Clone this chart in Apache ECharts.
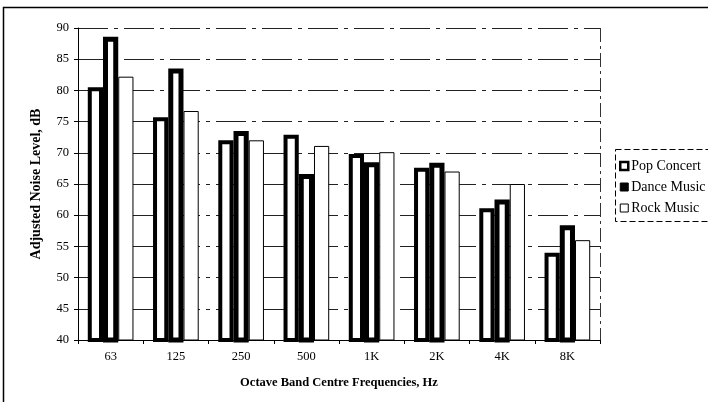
<!DOCTYPE html>
<html>
<head>
<meta charset="utf-8">
<script src="https://cdn.jsdelivr.net/npm/echarts@6/dist/echarts.min.js"></script>
<style>
  html, body { margin: 0; padding: 0; background: #fff; }
  #chart { width: 708px; height: 402px; }
</style>
</head>
<body>
<div id="chart"></div>
<script>
// Octave band levels (dB) for three music events
const bands = ['63', '125', '250', '500', '1K', '2K', '4K', '8K'];
const popConcert = [80.5, 75.7, 72.0, 72.9, 69.8, 67.6, 61.1, 54.0];
const danceMusic = [88.6, 83.5, 73.5, 66.6, 68.5, 68.4, 62.5, 58.4];
const rockMusic  = [82.2, 76.7, 72.0, 71.1, 70.1, 67.0, 65.0, 56.0];
const yTicks = { min: 40, max: 90, step: 5 };

const serif = '"Liberation Serif", "DejaVu Serif", serif';
const chart = echarts.init(document.getElementById('chart'), null, { renderer: 'canvas' });

chart.setOption({
  backgroundColor: '#fff',
  animation: false,
  grid: { left: 78, right: 108, top: 28, bottom: 62 },
  legend: {
    orient: 'vertical',
    left: 614,
    top: 154,
    itemWidth: 8,
    itemHeight: 8,
    itemGap: 7,
    textStyle: { fontFamily: serif, fontSize: 14, color: '#000', padding: [0, 0, 0, -2] },
    data: [
      { name: 'Pop Concert', icon: 'rect', itemStyle: { color: '#fff', borderColor: '#000', borderWidth: 2.5 } },
      { name: 'Dance Music', icon: 'rect', itemStyle: { color: '#000', borderColor: '#000', borderWidth: 1 } },
      { name: 'Rock Music', icon: 'rect', itemStyle: { color: '#fff', borderColor: '#000', borderWidth: 1 } }
    ]
  },
  xAxis: {
    type: 'category',
    data: bands,
    name: 'Octave Band Centre Frequencies, Hz',
    nameLocation: 'middle',
    nameGap: 36,
    nameTextStyle: { fontFamily: serif, fontSize: 12.5, fontWeight: 'bold', color: '#000' },
    axisLine: { lineStyle: { color: '#000', width: 1 } },
    axisTick: { show: true, length: 4, lineStyle: { color: '#000' } },
    axisLabel: { fontFamily: serif, fontSize: 12.5, color: '#000', margin: 10 }
  },
  yAxis: {
    type: 'value',
    min: yTicks.min,
    max: yTicks.max,
    interval: yTicks.step,
    name: 'Adjusted Noise Level, dB',
    nameLocation: 'middle',
    nameGap: 35,
    nameTextStyle: { fontFamily: serif, fontSize: 14, fontWeight: 'bold', color: '#000' },
    axisLine: { show: true, lineStyle: { color: '#000', width: 1 } },
    axisTick: { show: true, length: 4, lineStyle: { color: '#000' } },
    axisLabel: { fontFamily: serif, fontSize: 12.5, color: '#000', margin: 9 },
    splitLine: { show: true, lineStyle: { color: '#222', width: 1, type: [30, 6, 4, 6] } }
  },
  series: [
    {
      name: 'Pop Concert', type: 'bar', data: popConcert,
      barGap: '0%', barCategoryGap: '30%',
      itemStyle: { color: '#fff', borderColor: '#000', borderWidth: 4 }
    },
    {
      name: 'Dance Music', type: 'bar', data: danceMusic,
      itemStyle: { color: '#fff', borderColor: '#000', borderWidth: 5 }
    },
    {
      name: 'Rock Music', type: 'bar', data: rockMusic,
      itemStyle: { color: '#fff', borderColor: '#000', borderWidth: 1 }
    }
  ],
  graphic: [
    // outer frame of the figure
    { type: 'rect', silent: true, z: -1,
      shape: { x: 3.5, y: 7.5, width: 710, height: 410 },
      style: { fill: null, stroke: '#000', lineWidth: 1.5 } },
    // right edge of the plot area
    { type: 'line', silent: true,
      shape: { x1: 600.5, y1: 28, x2: 600.5, y2: 340 },
      style: { stroke: '#333', lineWidth: 1, lineDash: [14, 4, 3, 4] } },
    // legend frame
    { type: 'rect', silent: true,
      shape: { x: 615.5, y: 149.5, width: 100, height: 72 },
      style: { fill: null, stroke: '#000', lineWidth: 1, lineDash: [6, 3] } }
  ]
});
</script>
</body>
</html>
